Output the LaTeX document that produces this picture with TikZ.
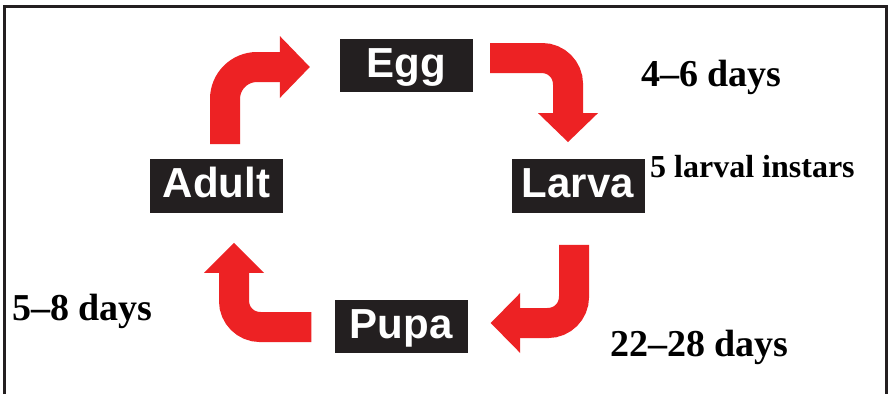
\documentclass[tikz,border=0pt]{standalone}
\usepackage{fontspec}
\setmainfont{Liberation Serif}
\newfontfamily\boxfont{Liberation Sans}
\usetikzlibrary{calc}
\definecolor{cycred}{RGB}{237,34,36}
\definecolor{boxblack}{RGB}{35,31,32}
\begin{document}
\begin{tikzpicture}[x=1pt,y=-1pt,
  stage/.style={fill=boxblack, text=white, font=\boxfont\bfseries\fontsize{42}{42}\selectfont,
    minimum width=133pt, minimum height=53.5pt, inner sep=0pt, text height=30pt, text depth=7pt},
  shaft/.style={draw=cycred, line width=30pt, rounded corners=26pt},
  head/.style={fill=cycred},
  lbl/.style={font=\bfseries\fontsize{38}{38}\selectfont, anchor=base west, inner sep=0pt, text=black}
]
\useasboundingbox (0,0) rectangle (888,394);
\fill[white] (0,0) rectangle (888,394);
\draw[boxblack, line width=3.5pt] (4.7,394) -- (4.7,6.5) -- (886.3,6.5) -- (886.3,394);

\node[stage] (egg) at (406.5,65.5) {Egg};
\node[stage] (adult) at (216.5,186) {Adult};
\node[stage] (larva) at (578,186) {Larva};
\node[stage] (pupa) at (401,326.5) {Pupa};

% Adult -> Egg
\coordinate (a1s) at ($(adult.north)+(8.5,-15)$);
\coordinate (a1t) at ($(egg.west)+(-30,1.5)$);
\coordinate (a1b) at ($(a1t)+(-30,0)$);
\draw[shaft, rounded corners=32pt] (a1s) |- ($(a1b)+(1,0)$);
\fill[head] ($(a1b)+(0,-31)$) -- (a1t) -- ($(a1b)+(0,31)$) -- cycle;

% Egg -> Larva
\coordinate (a2s) at ($(egg.east)+(17,-7.5)$);
\coordinate (a2t) at ($(larva.north)+(-10,-17)$);
\coordinate (a2b) at ($(a2t)+(0,-29)$);
\draw[shaft] (a2s) -| ($(a2b)+(0,1)$);
\fill[head] ($(a2b)+(-30,0)$) -- (a2t) -- ($(a2b)+(30,0)$) -- cycle;

% Larva -> Pupa
\coordinate (a3s) at ($(larva.south)+(-4,32)$);
\coordinate (a3t) at ($(pupa.east)+(23,-3.5)$);
\coordinate (a3b) at ($(a3t)+(29.5,0)$);
\draw[shaft] (a3s) |- ($(a3b)+(-1,0)$);
\fill[head] ($(a3b)+(0,-30)$) -- (a3t) -- ($(a3b)+(0,30)$) -- cycle;

% Pupa -> Adult
\coordinate (a4s) at ($(pupa.west)+(-23,0.5)$);
\coordinate (a4t) at ($(adult.south)+(17.5,30)$);
\coordinate (a4b) at ($(a4t)+(0,30)$);
\draw[shaft] (a4s) -| ($(a4b)+(0,-1)$);
\fill[head] ($(a4b)+(-30,0)$) -- (a4t) -- ($(a4b)+(30,0)$) -- cycle;

\node[lbl] (d1) at (641,86) {4–6 days};
\node[lbl, font=\bfseries\fontsize{32}{32}\selectfont] (d2) at (650,177) {5 larval instars};
\node[lbl] (d3) at (610,356) {22–28 days};
\node[lbl] (d4) at (12,320) {5–8 days};
\end{tikzpicture}
\end{document}
